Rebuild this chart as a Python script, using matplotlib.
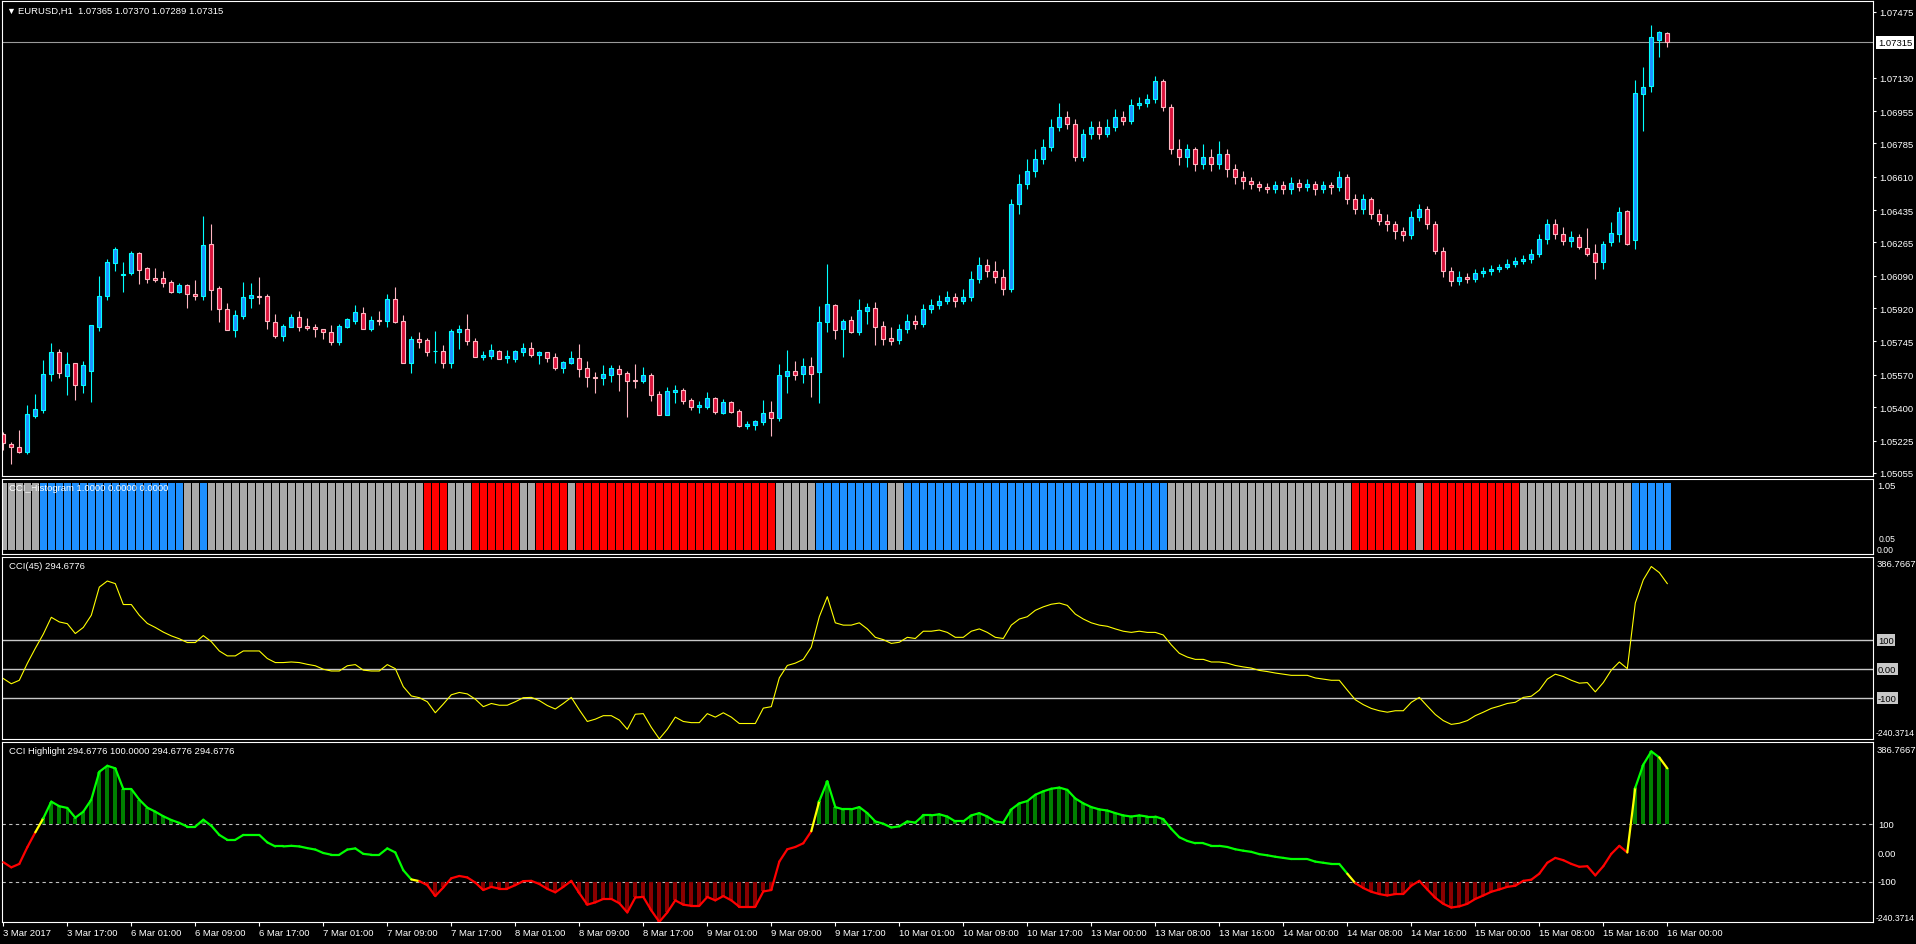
import numpy as np
import matplotlib
matplotlib.use("Agg")
import matplotlib.pyplot as plt
from matplotlib.collections import LineCollection
from matplotlib.transforms import blended_transform_factory

W, H = 1916, 945
plt.rcParams['font.family'] = ['Liberation Sans', 'DejaVu Sans']
FS = 6.8

# EURUSD H1 candles, prices in points (1e-5)
opens = [
    105259, 105205, 105189, 105166, 105355, 105387, 105576, 105688, 105562, 105630,
    105518, 105592, 105823, 105985, 106159, 106096, 106103, 106208, 106129, 106078,
    106077, 106056, 106006, 106040, 105993, 105985, 106257, 106024, 105914, 105804,
    105880, 105975, 105985, 105982, 105846, 105772, 105823, 105872, 105825, 105819,
    105811, 105793, 105744, 105823, 105854, 105895, 105812, 105858, 105854, 105968,
    105853, 105634, 105758, 105751, 105693, 105693, 105634, 105796, 105811, 105746,
    105665, 105670, 105693, 105657, 105655, 105691, 105709, 105676, 105688, 105662,
    105607, 105634, 105657, 105604, 105560, 105555, 105571, 105601, 105578, 105543,
    105539, 105567, 105468, 105361, 105481, 105489, 105436, 105403, 105403, 105448,
    105370, 105427, 105380, 105303, 105308, 105324, 105373, 105345, 105565, 105590,
    105574, 105616, 105586, 105847, 105937, 105812, 105856, 105796, 105907, 105921,
    105826, 105762, 105753, 105811, 105853, 105837, 105916, 105937, 105958, 105979,
    105958, 105979, 106073, 106147, 106115, 106084, 106021, 106467, 106572, 106640,
    106703, 106766, 106871, 106924, 106887, 106714, 106834, 106871, 106834, 106871,
    106924, 106903, 106987, 106997, 107018, 107113, 106976, 106756, 106714, 106756,
    106677, 106714, 106677, 106729, 106651, 106609, 106588, 106572, 106556, 106546,
    106567, 106546, 106577, 106556, 106572, 106546, 106567, 106556, 106609, 106493,
    106441, 106493, 106414, 106378, 106362, 106325, 106304, 106399, 106441, 106362,
    106220, 106115, 106063, 106084, 106073, 106105, 106115, 106126, 106136, 106152,
    106168, 106178, 106204, 106283, 106362, 106309, 106273, 106294, 106234, 106208,
    106161, 106266, 106308, 106428, 106279, 107046, 107085, 107329, 107365,
]
highs = [
    105268, 105216, 105280, 105411, 105469, 105648, 105737, 105706, 105690, 105630,
    105643, 105830, 106089, 106178, 106241, 106162, 106218, 106213, 106136, 106131,
    106115, 106066, 106052, 106047, 106068, 106404, 106362, 106035, 105947, 105910,
    106057, 106052, 106084, 105993, 105889, 105837, 105889, 105905, 105868, 105837,
    105811, 105832, 105837, 105870, 105937, 105926, 105879, 105905, 105994, 106031,
    105884, 105775, 105795, 105762, 105800, 105727, 105811, 105830, 105889, 105762,
    105697, 105730, 105700, 105700, 105700, 105737, 105742, 105695, 105688, 105685,
    105643, 105695, 105732, 105643, 105585, 105622, 105622, 105622, 105590, 105627,
    105611, 105578, 105485, 105506, 105515, 105499, 105448, 105433, 105480, 105453,
    105443, 105431, 105390, 105329, 105333, 105438, 105433, 105627, 105700, 105643,
    105658, 105664, 105931, 106152, 105942, 105863, 105879, 105968, 105947, 105952,
    105853, 105821, 105837, 105889, 105884, 105942, 105968, 105989, 106010, 106000,
    106021, 106115, 106189, 106178, 106168, 106126, 106493, 106624, 106703, 106756,
    106808, 106913, 106997, 106955, 106913, 106861, 106903, 106903, 106913, 106966,
    106955, 107018, 107029, 107044, 107139, 107123, 106992, 106808, 106782, 106766,
    106782, 106756, 106798, 106756, 106677, 106640, 106609, 106588, 106577, 106588,
    106588, 106609, 106598, 106598, 106588, 106588, 106582, 106640, 106624, 106519,
    106519, 106504, 106441, 106414, 106378, 106346, 106430, 106467, 106456, 106378,
    106241, 106136, 106115, 106105, 106126, 106136, 106147, 106152, 106178, 106189,
    106199, 106231, 106309, 106388, 106388, 106346, 106325, 106309, 106339, 106257,
    106271, 106372, 106451, 106435, 107118, 107186, 107407, 107373, 107370,
]
lows = [
    105177, 105103, 105158, 105156, 105345, 105371, 105539, 105555, 105466, 105439,
    105476, 105429, 105802, 105964, 106117, 106006, 106096, 106048, 106054, 106059,
    106033, 106001, 106001, 105922, 105964, 105964, 105912, 105849, 105804, 105770,
    105865, 105922, 105943, 105812, 105765, 105749, 105821, 105802, 105804, 105770,
    105760, 105728, 105728, 105817, 105837, 105812, 105800, 105832, 105821, 105844,
    105634, 105580, 105712, 105670, 105634, 105607, 105607, 105707, 105728, 105665,
    105649, 105653, 105653, 105634, 105639, 105670, 105665, 105628, 105639, 105597,
    105581, 105628, 105559, 105508, 105475, 105517, 105534, 105485, 105349, 105501,
    105527, 105433, 105361, 105361, 105422, 105415, 105387, 105370, 105390, 105364,
    105364, 105370, 105296, 105285, 105280, 105306, 105249, 105327, 105475, 105543,
    105527, 105453, 105422, 105795, 105758, 105664, 105790, 105779, 105837, 105727,
    105727, 105727, 105732, 105790, 105811, 105821, 105895, 105916, 105942, 105926,
    105942, 105958, 106052, 106084, 106052, 105989, 106005, 106414, 106546, 106609,
    106677, 106745, 106850, 106861, 106693, 106693, 106808, 106808, 106819, 106850,
    106882, 106887, 106966, 106976, 106997, 106955, 106729, 106672, 106661, 106640,
    106651, 106640, 106651, 106609, 106572, 106546, 106546, 106535, 106525, 106525,
    106519, 106519, 106535, 106535, 106514, 106525, 106519, 106535, 106467, 106414,
    106414, 106388, 106357, 106325, 106283, 106273, 106283, 106378, 106336, 106204,
    106084, 106036, 106042, 106052, 106057, 106084, 106094, 106110, 106126, 106136,
    106152, 106157, 106189, 106257, 106283, 106252, 106241, 106231, 106192, 106073,
    106126, 106248, 106269, 106253, 106231, 106852, 107056, 107240, 107289,
]
closes = [
    105210, 105189, 105166, 105363, 105389, 105573, 105688, 105581, 105625, 105518,
    105620, 105830, 105982, 106161, 106229, 106099, 106208, 106122, 106071, 106068,
    106054, 106006, 106040, 105993, 105985, 106252, 106017, 105914, 105804, 105882,
    105977, 105987, 105980, 105851, 105775, 105825, 105872, 105823, 105817, 105812,
    105793, 105744, 105825, 105863, 105900, 105812, 105858, 105854, 105968, 105849,
    105634, 105758, 105744, 105691, 105693, 105634, 105800, 105811, 105749, 105665,
    105672, 105699, 105655, 105667, 105695, 105709, 105676, 105688, 105660, 105607,
    105637, 105657, 105602, 105560, 105555, 105573, 105606, 105576, 105539, 105536,
    105567, 105466, 105361, 105483, 105489, 105434, 105403, 105411, 105448, 105376,
    105427, 105375, 105301, 105312, 105327, 105370, 105345, 105569, 105590, 105569,
    105616, 105574, 105847, 105942, 105807, 105853, 105796, 105910, 105926, 105823,
    105760, 105749, 105811, 105853, 105837, 105916, 105937, 105958, 105979, 105958,
    105979, 106073, 106147, 106115, 106084, 106021, 106467, 106572, 106640, 106703,
    106766, 106871, 106924, 106887, 106714, 106834, 106871, 106834, 106871, 106924,
    106903, 106987, 106997, 107018, 107113, 106976, 106756, 106714, 106756, 106677,
    106714, 106677, 106729, 106651, 106609, 106588, 106572, 106556, 106546, 106567,
    106546, 106577, 106556, 106572, 106546, 106567, 106556, 106609, 106493, 106441,
    106493, 106414, 106378, 106362, 106325, 106304, 106399, 106441, 106362, 106220,
    106115, 106063, 106084, 106073, 106105, 106115, 106126, 106136, 106152, 106168,
    106178, 106204, 106283, 106362, 106309, 106273, 106294, 106241, 106203, 106161,
    106255, 106313, 106423, 106255, 107048, 107079, 107342, 107368, 107315,
]

# CCI(45) per bar
cci = [
    -32, -50, -38, 20, 72, 121, 179, 163, 157, 123,
    144, 186, 283, 304, 295, 223, 223, 186, 158, 144,
    128, 115, 105, 92, 92, 116, 95, 63, 46, 46,
    63, 63, 63, 37, 23, 23, 25, 23, 17, 12,
    0, -6, -6, 12, 16, -3, -6, -6, 16, 2,
    -60, -92, -98, -112, -150, -120, -88, -80, -85, -103,
    -129, -118, -124, -124, -112, -98, -97, -108, -125, -137,
    -118, -97, -140, -180, -172, -160, -160, -175, -207, -155,
    -153, -200, -240, -207, -165, -180, -184, -184, -153, -165,
    -150, -165, -187, -187, -187, -134, -129, -30, 13, 21,
    34, 76, 181, 250, 160, 152, 152, 160, 139, 110,
    102, 89, 93, 110, 106, 131, 131, 135, 127, 110,
    110, 131, 139, 127, 110, 106, 152, 173, 181, 203,
    215, 224, 228, 220, 190, 173, 160, 152, 148, 139,
    131, 127, 131, 127, 127, 118, 84, 55, 42, 34,
    34, 25, 25, 21, 13, 8, 4, -4, -8, -13,
    -17, -21, -21, -21, -30, -34, -38, -38, -72, -105,
    -122, -135, -143, -148, -143, -143, -114, -97, -127, -156,
    -177, -190, -186, -177, -160, -148, -135, -127, -118, -114,
    -97, -93, -72, -34, -17, -25, -38, -48, -46, -78,
    -46, -3, 25, 2, 228, 308, 354, 333, 295,
]

# CCI_Histogram state per bar: g=gray, b=blue, r=red (run lengths)
hist_runs = [('g', 5), ('b', 18), ('g', 2), ('b', 1), ('g', 27), ('r', 3), ('g', 3),
             ('r', 6), ('g', 2), ('r', 4), ('g', 1), ('r', 25), ('g', 5), ('b', 9),
             ('g', 2), ('b', 33), ('g', 23), ('r', 8), ('g', 1), ('r', 12), ('g', 14),
             ('b', 5)]
# CCI Highlight line colour per segment (run lengths)
line_runs = [('r', 4), ('y', 1), ('g', 46), ('y', 1), ('r', 49), ('y', 1), ('g', 66),
             ('y', 1), ('r', 34), ('y', 1), ('g', 3), ('y', 1)]

time_labels = ['3 Mar 2017', '3 Mar 17:00', '6 Mar 01:00', '6 Mar 09:00', '6 Mar 17:00',
               '7 Mar 01:00', '7 Mar 09:00', '7 Mar 17:00', '8 Mar 01:00', '8 Mar 09:00',
               '8 Mar 17:00', '9 Mar 01:00', '9 Mar 09:00', '9 Mar 17:00', '10 Mar 01:00',
               '10 Mar 09:00', '10 Mar 17:00', '13 Mar 00:00', '13 Mar 08:00', '13 Mar 16:00',
               '14 Mar 00:00', '14 Mar 08:00', '14 Mar 16:00', '15 Mar 00:00', '15 Mar 08:00',
               '15 Mar 16:00', '16 Mar 00:00']
price_ticks = [1.07475, 1.07130, 1.06955, 1.06785, 1.06610, 1.06435, 1.06265, 1.06090,
               1.05920, 1.05745, 1.05570, 1.05400, 1.05225, 1.05055]
last_price = 1.07315
cci_max, cci_min = 386.7667, -240.3714

o = np.array(opens) / 1e5
hi = np.array(highs) / 1e5
lo = np.array(lows) / 1e5
c = np.array(closes) / 1e5
cc = np.array(cci, dtype=float)
n = len(o)
x = np.arange(n)

fig = plt.figure(figsize=(W / 100, H / 100), dpi=100, facecolor='black')
X0 = -(3.3 - 2) / 8
X1 = X0 + 1871 / 8


def panel(top, bottom):
    ax = fig.add_axes([2 / W, 1 - bottom / H, 1871 / W, (bottom - top) / H])
    ax.set_facecolor('black')
    for s in ax.spines.values():
        s.set_color('white')
        s.set_linewidth(0.8)
    ax.set_xlim(X0, X1)
    ax.set_xticks([])
    ax.set_yticks([])
    return ax


def rlabel(ax, y, s, dx=5, fs=FS, **kw):
    tr = blended_transform_factory(ax.transAxes, ax.transData)
    kw.setdefault('color', 'white')
    ax.text(1 + dx / 1871, y, s, transform=tr, fontsize=fs, ha='left', va='center',
            clip_on=False, **kw)


# ---- price panel
ax = panel(2, 477)
ax.set_ylim(1.050388, 1.075325)
up = c >= o
dn = ~up
ax.vlines(x[up], lo[up], hi[up], color='#00FFFF', lw=0.8, zorder=1)
ax.vlines(x[dn], lo[dn], hi[dn], color='#FFB6C1', lw=0.8, zorder=1)
ax.bar(x[up], (c - o)[up], bottom=o[up], width=0.5, color='#1E90FF',
       edgecolor='#00FFFF', linewidth=0.8, zorder=2)
ax.bar(x[dn], (o - c)[dn], bottom=c[dn], width=0.5, color='#DC143C',
       edgecolor='#FFB6C1', linewidth=0.8, zorder=2)
ax.axhline(last_price, color='#9A9A9A', lw=0.8, zorder=0)
ax.yaxis.tick_right()
ax.set_yticks(price_ticks)
ax.set_yticklabels(['%.5f' % p for p in price_ticks])
ax.tick_params(axis='y', direction='out', length=2.5, width=0.8, colors='white',
               labelsize=FS, pad=2)
rlabel(ax, last_price, '%.5f' % last_price, color='black',
       bbox=dict(facecolor='white', edgecolor='none', pad=1.2))
fig.text(6 / W, 1 - 11 / H, '\u25BC', color='white', fontsize=6.5, va='center')
fig.text(18 / W, 1 - 11 / H, 'EURUSD,H1  1.07365 1.07370 1.07289 1.07315',
         color='white', fontsize=FS, va='center')

# ---- CCI_Histogram panel
axh = panel(480, 555)
axh.set_ylim(-0.06, 1.06)
states = ''.join(s * k for s, k in hist_runs)
hcol = {'g': '#A9A9A9', 'b': '#1E90FF', 'r': '#FF0000'}
axh.bar(x, np.ones(n), width=0.875, color=[hcol[s] for s in states], zorder=1)
axh.text(7.3 / 1871, 1 - 8.5 / 75, 'CCI_Histogram 1.0000 0.0000 0.0000', transform=axh.transAxes,
         color='white', fontsize=FS, va='center', zorder=5)
rlabel(axh, 0.96, '1.05', dx=4)
rlabel(axh, 0.17, '0.05', dx=6, fs=6.2)
rlabel(axh, 0.01, '0.00', dx=4, fs=6.2)

# ---- CCI(45) panel
axc = panel(558, 740)
axc.set_ylim(cci_min, cci_max)
for lv in (100, 0, -100):
    axc.axhline(lv, color='#C8C8C8', lw=1.0, zorder=1)
axc.plot(x, cc, color='#FFFF00', lw=0.8, zorder=2)
axc.text(7.3 / 1871, 1 - 8.5 / 182, 'CCI(45) 294.6776', transform=axc.transAxes,
         color='white', fontsize=FS, va='center')
rlabel(axc, 365, '386.7667', dx=4)
for lv, s in ((100, '100'), (0, '0.00'), (-100, '-100')):
    rlabel(axc, lv, s, color='black', bbox=dict(facecolor='#C8C8C8', edgecolor='none', pad=1))
rlabel(axc, -217, '-240.3714', dx=3, fs=6.2)

# ---- CCI Highlight panel
axl = panel(743, 923)
axl.set_ylim(cci_min, cci_max)
for lv in (100, -100):
    axl.axhline(lv, color='#C0C0C0', lw=0.8, ls=(0, (3, 3)), zorder=1)
m = cc > 100
axl.bar(x[m], cc[m] - 100, bottom=100, width=0.45, color='#008000', zorder=2)
m = cc < -100
axl.bar(x[m], cc[m] + 100, bottom=-100, width=0.45, color='#8B0000', zorder=2)
seg_state = ''.join(s * k for s, k in line_runs)
lcol = {'r': '#FF0000', 'y': '#FFFF00', 'g': '#00FF00'}
segs = [[(i, cc[i]), (i + 1, cc[i + 1])] for i in range(n - 1)]
axl.add_collection(LineCollection(segs, colors=[lcol[s] for s in seg_state],
                                  linewidths=1.6, zorder=3, capstyle='round'))
axl.text(7.3 / 1871, 1 - 8.5 / 180, 'CCI Highlight 294.6776 100.0000 294.6776 294.6776',
         transform=axl.transAxes, color='white', fontsize=FS, va='center')
rlabel(axl, 362, '386.7667', dx=4)
rlabel(axl, 100, '100')
rlabel(axl, 0, '0.00')
rlabel(axl, -100, '-100')
rlabel(axl, -226, '-240.3714', dx=3, fs=6.2)

axl.set_xticks(np.arange(0, n, 8))
axl.set_xticklabels(time_labels)
axl.tick_params(axis='x', direction='out', length=3, width=0.8, colors='white',
                labelsize=FS, pad=1.5)
for t in axl.get_xticklabels():
    t.set_ha('left')

fig.savefig('out.png', dpi=100, facecolor='black')
